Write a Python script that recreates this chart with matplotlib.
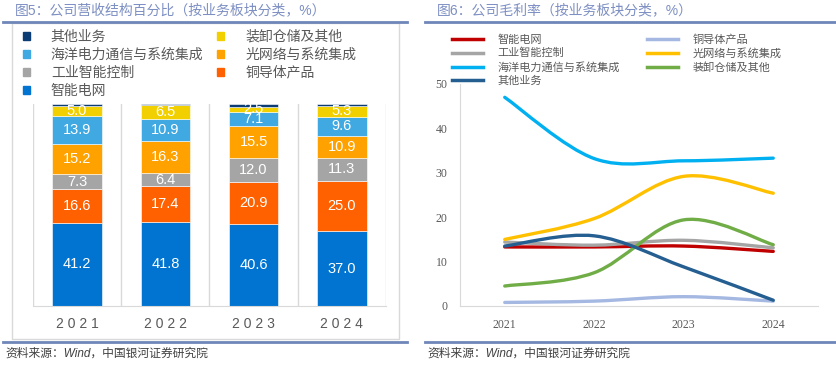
import numpy as np
import matplotlib.pyplot as plt
from matplotlib.path import Path
from matplotlib.patches import PathPatch, Patch, Rectangle
from matplotlib.lines import Line2D

plt.rcParams['font.family'] = ['Liberation Sans', 'Noto Sans CJK SC']

years = ['2021', '2022', '2023', '2024']

# 图5 营收结构 (%)
share_grid = [41.2, 41.8, 40.6, 37.0]
share_copper = [16.6, 17.4, 20.9, 25.0]
share_industrial = [7.3, 6.4, 12.0, 11.3]
share_optical = [15.2, 16.3, 15.5, 10.9]
share_marine = [13.9, 10.9, 7.1, 9.6]
share_handling = [5.0, 6.5, 2.5, 5.3]
share_other = [0.8, 0.7, 1.4, 0.9]

# 图6 毛利率 (%)
gm_grid = [13.3, 13.3, 13.5, 12.3]
gm_industrial = [14.4, 13.7, 14.8, 13.1]
gm_marine = [47.0, 33.2, 32.7, 33.3]
gm_other = [13.5, 15.8, 8.8, 1.3]
gm_copper = [0.8, 1.1, 2.1, 1.1]
gm_optical = [15.0, 19.7, 29.2, 25.4]
gm_handling = [4.5, 7.5, 19.4, 13.8]

W, H = 837, 365
fig = plt.figure(figsize=(W / 100, H / 100), dpi=100)
fig.patch.set_facecolor('white')


def fx(px):
    return px / W


def fy(py):
    return 1 - py / H


# ---------- 左图：堆积柱 ----------
ax1 = fig.add_axes([fx(33), fy(306), (386 - 33) / W, (306 - 104) / H])
x = np.arange(len(years))
stack = [
    ('智能电网', share_grid, '#0074D0', True),
    ('铜导体产品', share_copper, '#FF6100', True),
    ('工业智能控制', share_industrial, '#A5A5A5', True),
    ('光网络与系统集成', share_optical, '#FFA200', True),
    ('海洋电力通信与系统集成', share_marine, '#41A9E1', True),
    ('装卸仓储及其他', share_handling, '#F2D000', True),
    ('其他业务', share_other, '#0B3C73', False),
]
bottom = np.zeros(len(years))
bar_colors = {}
for name, vals, color, show in stack:
    bars = ax1.bar(x, vals, 0.56, bottom=bottom, color=color,
                   edgecolor='white', linewidth=0.4, zorder=2)
    if show:
        ax1.bar_label(bars, labels=[f'{v:.1f}' for v in vals],
                      label_type='center', color='white', fontsize=10.5)
    bottom += np.array(vals)
    bar_colors[name] = color

ax1.set_xlim(-0.5, 3.5)
ax1.set_ylim(0, 100)
for b in np.arange(-0.5, 4):
    ax1.axvline(b, color='#D9D9D9', lw=1, zorder=0)
for s in ['top', 'left', 'right']:
    ax1.spines[s].set_visible(False)
ax1.spines['bottom'].set_color('#D9D9D9')
ax1.set_yticks([])
ax1.set_xticks(x, [' '.join(y) for y in years])
ax1.tick_params(axis='x', length=0, pad=8, labelcolor='#595959', labelsize=10)

leg_order = ['其他业务', '海洋电力通信与系统集成', '工业智能控制', '智能电网',
             '装卸仓储及其他', '光网络与系统集成', '铜导体产品']
fig.legend([Patch(color=bar_colors[n]) for n in leg_order], leg_order,
           ncol=2, loc='upper left', bbox_to_anchor=(fx(23), fy(30)),
           frameon=False, fontsize=10, handlelength=0.5, handleheight=0.5,
           handletextpad=1.5, columnspacing=1.0, labelspacing=0.28,
           borderpad=0, borderaxespad=0, labelcolor='#595959')


# ---------- 右图：平滑折线 ----------
def smooth_path(xs, ys):
    pts = np.column_stack([xs, ys]).astype(float)
    n = len(pts)
    verts = [pts[0]]
    codes = [Path.MOVETO]
    for i in range(n - 1):
        p0 = pts[max(i - 1, 0)]
        p1 = pts[i]
        p2 = pts[i + 1]
        p3 = pts[min(i + 2, n - 1)]
        verts += [p1 + (p2 - p0) / 6, p2 - (p3 - p1) / 6, p2]
        codes += [Path.CURVE4] * 3
    return Path(verts, codes)


ax2 = fig.add_axes([fx(460), fy(306), (818 - 460) / W, (306 - 84) / H])
lines = [
    ('智能电网', gm_grid, '#C00000'),
    ('工业智能控制', gm_industrial, '#A5A5A5'),
    ('海洋电力通信与系统集成', gm_marine, '#00B0F0'),
    ('其他业务', gm_other, '#255E91'),
    ('铜导体产品', gm_copper, '#A4B8E2'),
    ('光网络与系统集成', gm_optical, '#FFC000'),
    ('装卸仓储及其他', gm_handling, '#70AD47'),
]
draw_order = [4, 0, 1, 2, 5, 6, 3]
for k in draw_order:
    name, vals, color = lines[k]
    ax2.add_patch(PathPatch(smooth_path(x, vals), facecolor='none',
                            edgecolor=color, lw=2.4, capstyle='round'))

ax2.set_xlim(-0.5, 3.5)
ax2.set_ylim(0, 50)
for s in ['top', 'right']:
    ax2.spines[s].set_visible(False)
for s in ['left', 'bottom']:
    ax2.spines[s].set_color('#D9D9D9')
ax2.set_yticks(range(0, 51, 10))
ax2.set_xticks(x, years)
ax2.tick_params(axis='y', length=0, pad=9, labelcolor='#595959', labelsize=8.5)
ax2.tick_params(axis='x', length=0, pad=9, labelcolor='#595959', labelsize=8.5)
for lbl in ax2.get_xticklabels() + ax2.get_yticklabels():
    lbl.set_fontfamily('Liberation Serif')

fig.legend([Line2D([], [], color=c, lw=2.5) for _, _, c in lines],
           [n for n, _, _ in lines],
           ncol=2, loc='upper left', bbox_to_anchor=(fx(452), fy(34)),
           frameon=False, fontsize=8, handlelength=2.8, handletextpad=1.26,
           columnspacing=2.5, labelspacing=0.3, borderpad=0, borderaxespad=0,
           labelcolor='#595959')

# ---------- 框线、标题、来源 ----------
fig.add_artist(Rectangle((fx(12), fy(339)), (399 - 12) / W, (339 - 23) / H,
                         transform=fig.transFigure, facecolor='none',
                         edgecolor='#D9D9D9', lw=1))
blue = '#6F86B9'
for x0, x1 in [(3, 407), (425, 835)]:
    for yy in [22, 342]:
        fig.add_artist(Line2D([fx(x0), fx(x1)], [fy(yy), fy(yy)],
                              transform=fig.transFigure, color=blue, lw=2))

fig.text(fx(15), fy(10), '图5：公司营收结构百分比（按业务板块分类，%）',
         va='center', color='#7D8FC3', fontsize=10)
fig.text(fx(437), fy(10), '图6：公司毛利率（按业务板块分类，%）',
         va='center', color='#7D8FC3', fontsize=10)
for x0 in [5, 427]:
    fig.text(fx(x0), fy(354), '资料来源：Wind，中国银河证券研究院',
             va='center', color='#404040', fontsize=8.5, style='italic')

fig.savefig('out.png', dpi=100)
